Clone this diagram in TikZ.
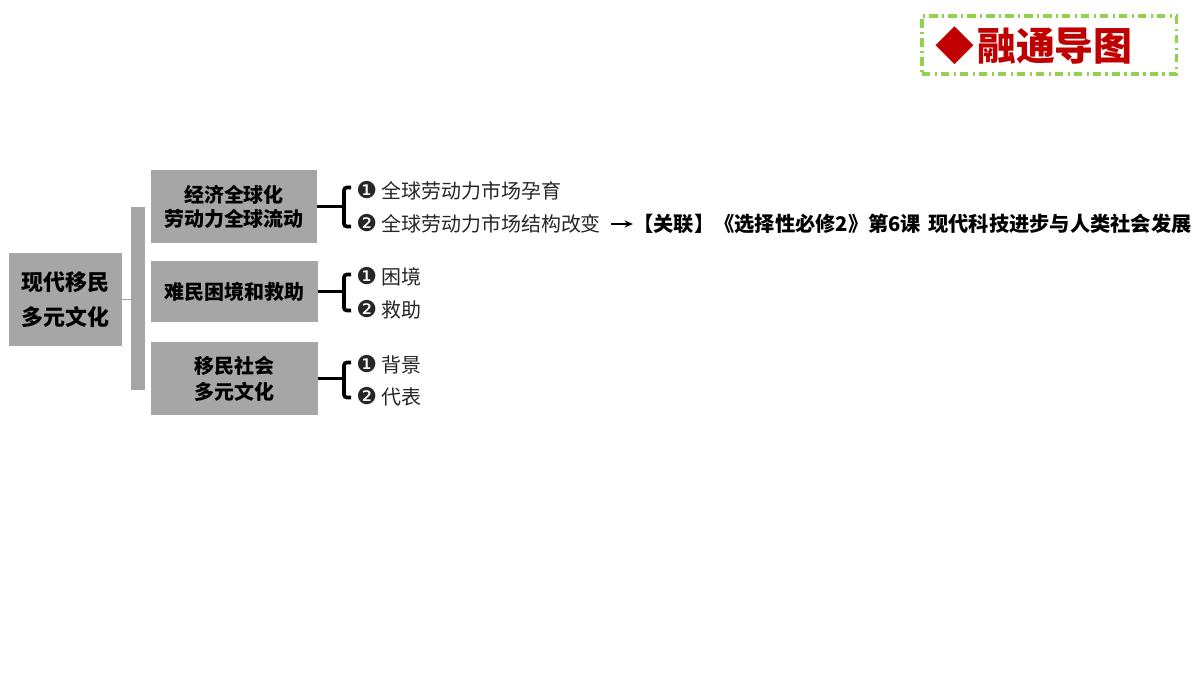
\documentclass[tikz,border=0pt]{standalone}
\usepackage{fontspec}
\setmainfont{Noto Sans CJK SC}
\newfontfamily\numfont{DejaVu Sans}
\usetikzlibrary{positioning, arrows.meta, calc}
\definecolor{boxgray}{RGB}{166,166,166}
\definecolor{headred}{RGB}{192,0,0}
\definecolor{framegreen}{RGB}{146,208,80}
\newcommand{\one}{{\numfont\fontsize{16.5}{16}\selectfont ❶}\hspace{3pt}}
\newcommand{\two}{{\numfont\fontsize{16.5}{16}\selectfont ❷}\hspace{3pt}}

\begin{document}
\begin{tikzpicture}[
    x=0.025cm, y=-0.025cm,
    box/.style={rectangle, fill=boxgray, minimum width=4.15cm, minimum height=1.825cm, inner sep=0pt, align=center, font=\bfseries\fontsize{14.2}{17}\selectfont},
    item/.style={anchor=west, inner sep=0pt, text=black!85, font=\fontsize{14.2}{17}\selectfont},
    brace/.style={line width=2.6pt, rounded corners=2pt},
    arrow/.style={-{Stealth[length=6pt, width=5pt]}, line width=1.1pt},
    link/.style={anchor=west, inner sep=0pt, font=\bfseries\fontsize{14.4}{17}\selectfont},
    frame/.style={draw=framegreen, line width=2.2pt, dash pattern=on 6pt off 3pt on 1.5pt off 3pt, minimum width=6.35cm, minimum height=1.45cm}
]
    \useasboundingbox (0,0) rectangle (1200,675);

    % title
    \node[frame] (head) at (1049,45) {};
    \node[anchor=west, inner sep=0pt, text=headred, font=\bfseries\fontsize{27.7}{30}\selectfont] (title) at (935,46) {◆\hspace{2pt}融通导图};

    % root and branch boxes
    \node[box, minimum width=2.825cm, minimum height=2.325cm, font=\bfseries\fontsize{15.6}{25}\selectfont] (root) at (65.5,299.5) {现代移民\\多元文化};
    \node[fill=boxgray, minimum width=0.35cm, minimum height=4.575cm, inner sep=0pt] (bar) at (138,298.5) {};
    \draw[boxgray, line width=0.8pt] (root.east) -- (root.east -| bar.west);

    \node[box] (econ) at (234,206.5) {经济全球化\\劳动力全球流动};
    \node[box, minimum height=1.525cm] (refu) at (234.5,291.5) {难民困境和救助};
    \node[box, font=\bfseries\fontsize{14.2}{18.5}\selectfont] (soc) at (234.5,378.5) {移民社会\\多元文化};

    % items
    \node[item] (e1) at (356,191) {\one 全球劳动力市场孕育};
    \node[item] (e2) at (356,224) {\two 全球劳动力市场结构改变};
    \node[item] (r1) at (356,277) {\one 困境};
    \node[item] (r2) at (356,310) {\two 救助};
    \node[item] (s1) at (356,365) {\one 背景};
    \node[item] (s2) at (356,397) {\two 代表};

    % black brackets
    \coordinate (ke) at (344,206.5);
    \coordinate (kr) at (344,291.5);
    \coordinate (ks) at (344,378.5);
    \draw[brace] (econ.east) -- (ke);
    \draw[brace] ($(ke)+(7,-19)$) -- ($(ke)+(0,-19)$) -- ($(ke)+(0,20)$) -- ($(ke)+(7,20)$);
    \draw[brace] (refu.east) -- (kr);
    \draw[brace] ($(kr)+(7,-17)$) -- ($(kr)+(0,-17)$) -- ($(kr)+(0,19)$) -- ($(kr)+(7,19)$);
    \draw[brace] (soc.east) -- (ks);
    \draw[brace] ($(ks)+(7,-16)$) -- ($(ks)+(0,-16)$) -- ($(ks)+(0,19)$) -- ($(ks)+(7,19)$);

    % link
    \node[link] (rel) at (633,224) {【关联】《选择性必修2》第6课\hspace{0.35em}现代科技进步与人类社会发展};
    \draw[arrow] ([xshift=7pt]e2.east) -- (rel.west);
\end{tikzpicture}
\end{document}
